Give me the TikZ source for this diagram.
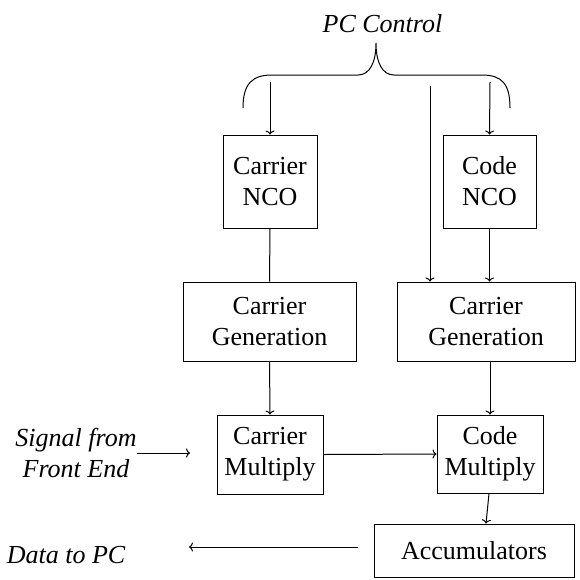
\documentclass[tikz,border=0pt]{standalone}
\usepackage{fontspec}
\setmainfont{LiberationSerif}[Extension=.ttf, UprightFont=*-Regular, ItalicFont=*-Italic, BoldFont=*-Bold, BoldItalicFont=*-BoldItalic]
\usetikzlibrary{arrows.meta}
\begin{document}
\begin{tikzpicture}[x=1pt,y=-1pt,
  box/.style={draw, line width=1pt, inner sep=0pt, align=center, font=\rmfamily\fontsize{26}{31}\selectfont},
  lbl/.style={inner sep=0pt, align=center, font=\rmfamily\fontsize{26}{31}\selectfont\itshape},
  conn/.style={line width=1pt},
  arr/.style={line width=1pt, -{To[length=4pt,width=9pt]}}]
\useasboundingbox (0,0) rectangle (580,579);
% boxes
\node[box, minimum width=94pt, minimum height=93pt] (cnco) at (270,181.5) {Carrier\\NCO};
\node[box, minimum width=93pt, minimum height=93pt] (conco) at (489.5,181.5) {Code\\NCO};
\node[box, minimum width=173pt, minimum height=79pt] (gen1) at (269.5,321.5) {Carrier\\Generation};
\node[box, minimum width=178pt, minimum height=79pt] (gen2) at (486,321.5) {Carrier\\Generation};
\node[box, minimum width=106pt, minimum height=79pt] (cmul) at (270,454.5) {Carrier\\Multiply};
\node[box, minimum width=106pt, minimum height=78pt] (comul) at (490,454) {Code\\Multiply};
\node[box, minimum width=200pt, minimum height=53pt] (acc) at (474,550.5) {Accumulators};
% labels
\node[lbl, anchor=base] (pc) at (382.5,32) {PC Control};
\node[lbl] (sig) at (76,452.5) {Signal from\\Front End};
\node[lbl, anchor=base] (data) at (66,563) {Data to PC};
% brace
\draw[conn] (243,108) .. controls (243,84) and (252,75) .. (272,75) -- (358,75)
  .. controls (370,75) and (376,62) .. (376,43)
  .. controls (376,62) and (382,75) .. (394,75) -- (482,75)
  .. controls (502,75) and (510,84) .. (510,108);
% coordinates for free ends
\coordinate (t1) at (270,82);
\coordinate (t2) at (430,86);
\coordinate (t3) at (490,82);
\coordinate (s1) at (137,453);
\coordinate (s2) at (190,453);
\coordinate (d1) at (358,547);
\coordinate (d2) at (189,547);
% connectors
\draw[arr] (t1) -- (cnco.north);
\draw[arr] (t2) -- (t2 |- gen2.north);
\draw[arr] (t3) -- (conco.north);
\draw[conn] (cnco.south) -- (gen1.north);
\draw[arr] (conco.south) -- (conco.south |- gen2.north);
\draw[arr] (gen1.south) -- (cmul.north);
\draw[arr] (comul.north |- gen2.south) -- (comul.north);
\draw[arr] (s1) -- (s2);
\draw[arr] (cmul.east) -- (comul.west);
\draw[arr] ([xshift=-1pt]comul.south) -- ([xshift=12pt]acc.north);
\draw[arr] (d1) -- (d2);
\end{tikzpicture}
\end{document}
